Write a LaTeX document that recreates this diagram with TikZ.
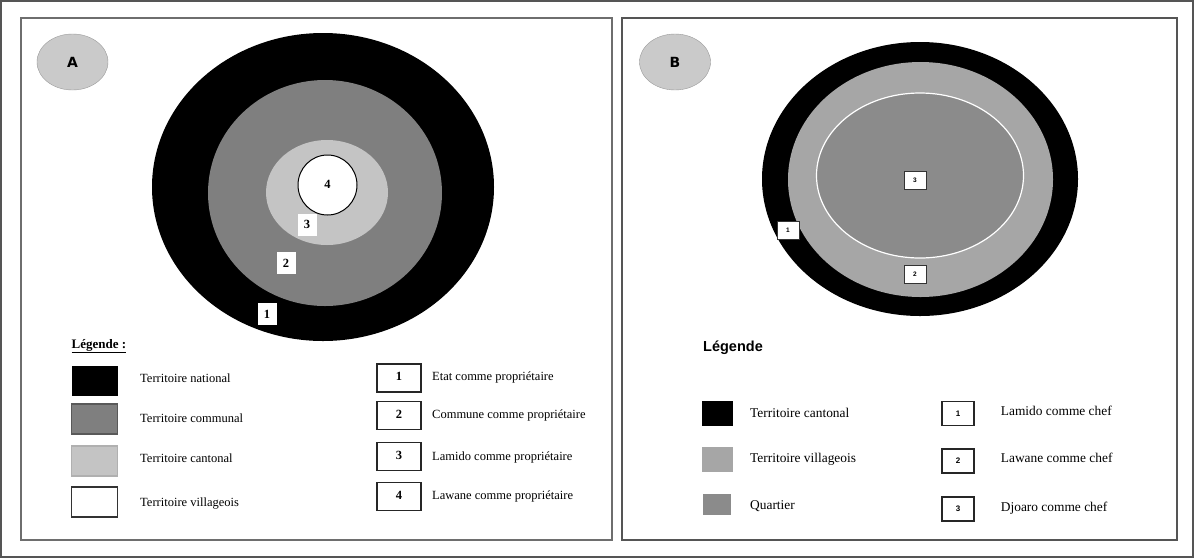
\documentclass[tikz,border=0pt]{standalone}
\usepackage{fontspec}
\setmainfont{Liberation Serif}
\newfontfamily\labelfont{Liberation Sans}
\newfontfamily\badgefont{DejaVu Sans}
\usepackage{tikz}
\usetikzlibrary{positioning,shapes.geometric}
\definecolor{Frame}{HTML}{555555}
\definecolor{Badge}{HTML}{CACACA}
\definecolor{Communal}{HTML}{7F7F7F}
\definecolor{Cantonal}{HTML}{C4C4C4}
\definecolor{Village}{HTML}{A6A6A6}
\definecolor{Quarter}{HTML}{8B8B8B}
\tikzset{
  badge/.style={ellipse,draw=Frame!60,fill=Badge,minimum width=71pt,
    minimum height=56pt,inner sep=0pt,font=\badgefont\bfseries\fontsize{14}{14}\selectfont},
  ringtag/.style={fill=white,inner sep=0pt,minimum width=19pt,minimum height=22pt,
    font=\bfseries\fontsize{12.5}{12.5}\selectfont},
  smalltag/.style={fill=white,draw=black!80,line width=0.8pt,inner sep=0pt,
    minimum width=22pt,minimum height=18pt,font=\labelfont\bfseries\fontsize{6.5}{6.5}\selectfont},
  swatch/.style={minimum width=46pt,minimum height=30pt,inner sep=0pt,line width=1.3pt},
  numbox/.style={draw=black!85,line width=1.2pt,minimum width=44pt,minimum height=28pt,
    inner sep=0pt,font=\bfseries\fontsize{12.5}{12.5}\selectfont},
  legtext/.style={anchor=west,inner sep=0pt,font=\fontsize{12.5}{14}\selectfont},
}

\begin{document}
\begin{tikzpicture}[x=1pt,y=-1pt]
\useasboundingbox (0,0) rectangle (1194,558);
\draw[Frame,line width=2pt] (1,1) rectangle (1193,557);

% Panel A: nested ownership territories.
\begin{scope}
  \draw[Frame!85,line width=1.3pt] (21,18) rectangle (612,540);
  \node[badge] (badgeA) at (72.5,62) {A};

  \fill[black] (323,187) ellipse [x radius=171pt, y radius=154pt];
  \fill[Communal] (325,193) ellipse [x radius=117pt, y radius=113pt];
  \fill[Cantonal] (327,192.5) ellipse [x radius=61pt, y radius=52.5pt];
  \draw[black,line width=1pt,fill=white] (327.5,185) ellipse [x radius=29.5pt, y radius=30pt];

  \node[font=\bfseries\fontsize{12.5}{12.5}\selectfont] (tagfour) at (327.5,184) {4};
  \node[ringtag] (tagthree) at (307,224.5) {3};
  \node[ringtag] (tagtwo) at (286,263) {2};
  \node[ringtag] (tagone) at (267,314) {1};

  \node[anchor=west,inner sep=0pt,font=\bfseries\fontsize{13}{13}\selectfont] (legA) at (71.5,346)
    {\underline{Légende :}};

  \node[swatch,fill=black] (swnational) at (94.7,381) {};
  \node[swatch,fill=Communal,draw=Communal!70!black] (swcommunal) at (94.7,419) {};
  \node[swatch,fill=Cantonal,draw=Cantonal!90!black] (swcantonal) at (94.7,461) {};
  \node[swatch,fill=white,draw=black!80] (swvillage) at (94.7,502) {};
  \node[legtext] (txnational) at (140,378) {Territoire national};
  \node[legtext] (txcommunal) at (140,418) {Territoire communal};
  \node[legtext] (txcantonal) at (140,458) {Territoire cantonal};
  \node[legtext] (txvillage) at (140,504) {Territoire villageois};

  \foreach \n/\yb/\yt/\txt in {1/378/377/Etat comme propriétaire,
                               2/415.5/415/Commune comme propriétaire,
                               3/456.5/457/Lamido comme propriétaire,
                               4/496.5/496/Lawane comme propriétaire} {
    \node[numbox,text depth=3pt] (ownbox\n) at (399,\yb) {\n};
    \node[legtext] (owntext\n) at (432,\yt) {\txt};
  }
\end{scope}

% Panel B: customary chiefdoms.
\begin{scope}
  \draw[Frame,line width=1.3pt] (622,18) rectangle (1177,540);
  \node[badge] (badgeB) at (675,62) {B};

  \fill[black] (920,179) ellipse [x radius=158pt, y radius=137pt];
  \fill[Village] (920.5,179.5) ellipse [x radius=132.5pt, y radius=117.5pt];
  \draw[white,line width=1.2pt,fill=Quarter] (920,175.5) ellipse [x radius=103.5pt, y radius=82.5pt];

  \node[smalltag] (chiefthree) at (915,180) {3};
  \node[smalltag] (chiefone) at (788,230) {1};
  \node[smalltag] (chieftwo) at (915,274.5) {2};

  \node[anchor=west,inner sep=0pt,font=\labelfont\bfseries\fontsize{14.5}{14.5}\selectfont] (legB)
    at (703,348) {Légende};

  \node[swatch,fill=black,minimum width=31pt,minimum height=25pt] (swcanton) at (717,413.5) {};
  \node[swatch,fill=Village,minimum width=31pt,minimum height=25pt] (swvillageB) at (717,459) {};
  \node[swatch,fill=Quarter,minimum width=28pt,minimum height=21pt] (swquarter) at (717,504.5) {};
  \node[legtext,font=\fontsize{13.4}{15}\selectfont] (txcanton) at (750,412.7) {Territoire cantonal};
  \node[legtext,font=\fontsize{13.4}{15}\selectfont] (txvillageB) at (750,459) {Territoire villageois};
  \node[legtext,font=\fontsize{13.4}{15}\selectfont] (txquarter) at (750,505.7) {Quartier};

  \foreach \n/\yb/\yt/\txt in {1/413.5/410.7/Lamido comme chef,
                               2/461/458/Lawane comme chef,
                               3/509/507.7/Djoaro comme chef} {
    \node[numbox,minimum width=32pt,minimum height=24pt,
      font=\labelfont\bfseries\fontsize{8}{8}\selectfont] (chiefbox\n) at (958,\yb) {\n};
    \node[legtext,font=\fontsize{13.4}{15}\selectfont] (chieftext\n) at (1000.7,\yt) {\txt};
  }
\end{scope}
\end{tikzpicture}
\end{document}
